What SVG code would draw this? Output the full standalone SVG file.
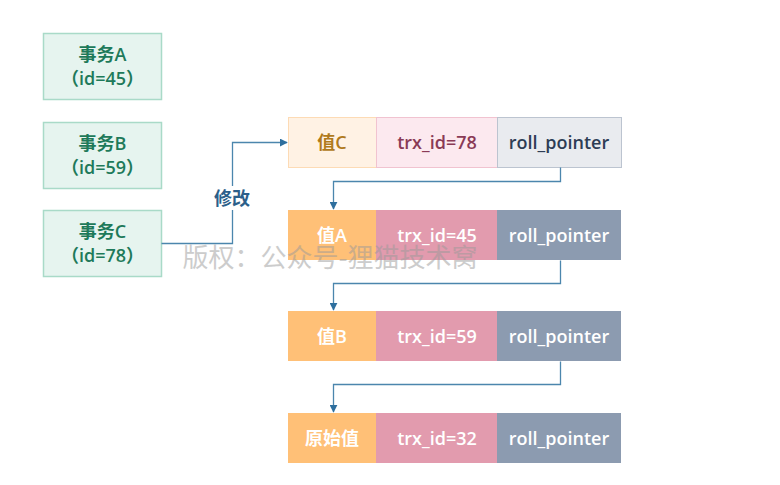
<svg xmlns="http://www.w3.org/2000/svg" width="780" height="485" viewBox="0 0 780 485">
<style>
text{font-family:"Open Sans","Noto Sans","Noto Sans CJK SC",sans-serif;text-anchor:middle;dominant-baseline:central}
.tx rect{fill:#e6f4ef;stroke:#a9dac8;stroke-width:1.5}
.tx text{fill:#1e7a5a;font-size:18px;font-weight:600}
.c{font-size:18px;font-weight:600;fill:#fff}
.d{font-size:18px;font-weight:600}
.v rect{fill:#ffc077}
.t rect{fill:#e29bae}
.r rect{fill:#8c9bb0}
.conn path{fill:none;stroke:#4b86ad;stroke-width:1.3}
.wm{font-family:"Noto Sans CJK SC",sans-serif;font-size:26px;fill:#9a9a9a;opacity:0.5}
</style>
<defs>
<marker id="ah" viewBox="0 0 10 10" refX="9" refY="5" markerWidth="8" markerHeight="8" markerUnits="userSpaceOnUse" orient="auto">
<path d="M0,0 L10,5 L0,10 z" fill="#2e6f9e"/>
</marker>
</defs>
<g id="txA" class="tx"><rect x="43.5" y="33.5" width="118" height="66"/><text x="102.5" y="54">事务A</text><text x="102.5" y="78">（id=45）</text></g>
<g id="txB" class="tx"><rect x="43.5" y="122.5" width="118" height="66"/><text x="102.5" y="143">事务B</text><text x="102.5" y="167">（id=59）</text></g>
<g id="txC" class="tx"><rect x="43.5" y="210.5" width="118" height="66"/><text x="102.5" y="231">事务C</text><text x="102.5" y="255">（id=78）</text></g>

<g id="row1">
<rect x="288.5" y="117.5" width="88" height="50" fill="#fff2e4" stroke="#fddbb5"/>
<text class="d" x="332" y="142" fill="#b07a1c">值C</text>
<rect x="376.5" y="117.5" width="121" height="50" fill="#fce9ef" stroke="#f1c3d0"/>
<text class="d" x="437" y="142" fill="#8a3a56">trx_id=78</text>
<rect x="497.5" y="117.5" width="124" height="50" fill="#e9ebef" stroke="#bcc4d0"/>
<text class="d" x="559" y="142" fill="#2d3d55">roll_pointer</text>
</g>
<g id="row2">
<g class="v"><rect x="288" y="210" width="88" height="50"/></g><text class="c" x="332" y="235">值A</text>
<g class="t"><rect x="376" y="210" width="121" height="50"/></g><text class="c" x="437" y="235">trx_id=45</text>
<g class="r"><rect x="497" y="210" width="124" height="50"/></g><text class="c" x="559" y="235">roll_pointer</text>
</g>
<g id="row3">
<g class="v"><rect x="288" y="311" width="88" height="50"/></g><text class="c" x="332" y="336">值B</text>
<g class="t"><rect x="376" y="311" width="121" height="50"/></g><text class="c" x="437" y="336">trx_id=59</text>
<g class="r"><rect x="497" y="311" width="124" height="50"/></g><text class="c" x="559" y="336">roll_pointer</text>
</g>
<g id="row4">
<g class="v"><rect x="288" y="413" width="88" height="50"/></g><text class="c" x="332" y="438">原始值</text>
<g class="t"><rect x="376" y="413" width="121" height="50"/></g><text class="c" x="437" y="438">trx_id=32</text>
<g class="r"><rect x="497" y="413" width="124" height="50"/></g><text class="c" x="559" y="438">roll_pointer</text>
</g>

<g class="conn">
<path d="M161.5,243.5 H232.5 V142.5 H287" marker-end="url(#ah)"/>
<path d="M560.5,167.5 V181.5 H333.5 V209" marker-end="url(#ah)"/>
<path d="M560.5,260.5 V283.5 H333.5 V310" marker-end="url(#ah)"/>
<path d="M560.5,361.5 V384.5 H333.5 V412" marker-end="url(#ah)"/>
</g>
<g id="lbl"><rect x="210" y="186" width="45" height="24" fill="#ffffff"/><text x="232" y="198" style="font-size:18px;font-weight:600;fill:#2c5f8a">修改</text></g>
<text class="wm" x="330" y="255">版权：公众号-狸猫技术窝</text>
</svg>
